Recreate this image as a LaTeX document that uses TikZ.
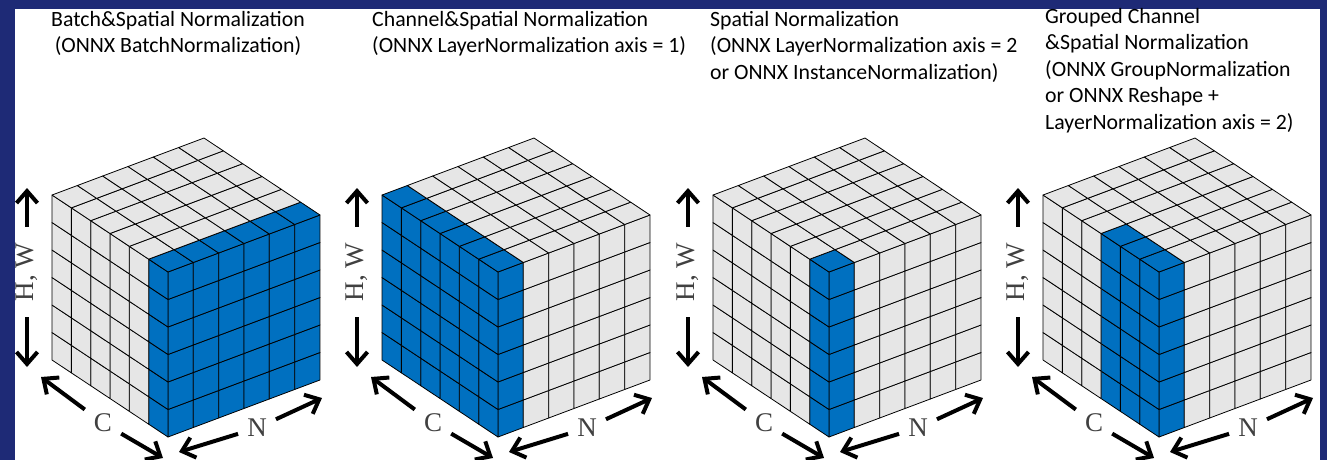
\documentclass[tikz,border=0pt]{standalone}
\usepackage{fontspec}
\setmainfont{Carlito}
\newfontfamily\axisfont{Liberation Serif}
\usetikzlibrary{arrows.meta}

\definecolor{slideblue}{RGB}{30,42,118}
\definecolor{cubeblue}{RGB}{0,112,192}
\definecolor{cubegrey}{RGB}{230,230,230}
\definecolor{labelgrey}{RGB}{64,64,64}

% #1 x of front bottom corner, #2 blue N layers, #3 blue C layers, #4 id
\newcommand{\normcube}[4]{%
  \begin{scope}[shift={(#1,437)}, x={(25.33pt,9.5pt)}, y={(0pt,27.5pt)}, z={(-19.33pt,12.83pt)}]
    % N-H face
    \foreach \i in {0,...,5} \foreach \j in {0,...,5} {
      \ifnum\i<#2 \def\cellfill{cubeblue}\else\def\cellfill{cubegrey}\fi
      \draw[cell, fill=\cellfill] (\i,\j,0) -- ++(1,0,0) -- ++(0,1,0) -- ++(-1,0,0) -- cycle;
    }
    % C-H face
    \foreach \k in {0,...,5} \foreach \j in {0,...,5} {
      \ifnum\k<#3 \def\cellfill{cubeblue}\else\def\cellfill{cubegrey}\fi
      \draw[cell, fill=\cellfill] (0,\j,\k) -- ++(0,0,1) -- ++(0,1,0) -- ++(0,0,-1) -- cycle;
    }
    % top face
    \foreach \i in {0,...,5} \foreach \k in {0,...,5} {
      \def\cellfill{cubegrey}
      \ifnum\i<#2 \ifnum\k<#3 \def\cellfill{cubeblue}\fi\fi
      \draw[cell, fill=\cellfill] (\i,6,\k) -- ++(1,0,0) -- ++(0,0,1) -- ++(-1,0,0) -- cycle;
    }
  \end{scope}
  % axes
  \begin{scope}[shift={(#1,437)}]
    \node[axislabel, rotate=90, inner xsep=16pt] (hwlabel#4) at (-141,-165) {H, W};
    \node[axislabel] (clabel#4) at (-65,-14) {C};
    \node[axislabel] (nlabel#4) at (89,-9) {N};
    \coordinate (hwtop#4) at (-141,-249);
    \coordinate (hwbot#4) at (-141,-70);
    \coordinate (cback#4) at (-127,-60);
    \coordinate (cfront#4) at (-5,21);
    \coordinate (nfront#4) at (11,15);
    \coordinate (nback#4) at (154,-39);
    \draw[axisarrow] (hwlabel#4) -- (hwtop#4);
    \draw[axisarrow] (hwlabel#4) -- (hwbot#4);
    \draw[axisarrow] (clabel#4) -- (cback#4);
    \draw[axisarrow] (clabel#4) -- (cfront#4);
    \draw[axisarrow] (nlabel#4) -- (nfront#4);
    \draw[axisarrow] (nlabel#4) -- (nback#4);
  \end{scope}}

\begin{document}
\begin{tikzpicture}[
    x=1pt, y=-1pt,
    cell/.style={draw=black, line width=0.8pt, line join=round},
    title/.style={inner sep=0pt, font=\fontsize{21.8}{26.5}\selectfont, align=left},
    axislabel/.style={font=\axisfont\fontsize{27}{27}\selectfont, text=labelgrey, inner sep=9pt},
    axisarrow/.style={-{Straight Barb[length=12pt, width=21pt]}, line width=4pt}
]
\useasboundingbox (0,0) rectangle (1327,460);
\fill[slideblue] (0,0) rectangle (1327,460);
\fill[white] (15,9) rectangle (1320,460);

% Batch&Spatial
\node[title, align=center, anchor=north] (title1) at (178,11) {Batch\&Spatial Normalization\\(ONNX BatchNormalization)};
\normcube{168}{6}{1}{1}

% Channel&Spatial
\node[title, anchor=north west] (title2) at (372,11) {Channel\&Spatial Normalization\\(ONNX LayerNormalization axis = 1)};
\normcube{498}{1}{6}{2}

% Spatial
\node[title, anchor=north west] (title3) at (710,11) {Spatial Normalization\\(ONNX LayerNormalization axis = 2\\or ONNX InstanceNormalization)};
\normcube{829}{1}{1}{3}

% Grouped Channel
\node[title, anchor=north west] (title4) at (1045,8) {Grouped Channel\\\&Spatial Normalization\\(ONNX GroupNormalization\\or ONNX Reshape +\\LayerNormalization axis = 2)};
\normcube{1159}{1}{3}{4}
\end{tikzpicture}
\end{document}
